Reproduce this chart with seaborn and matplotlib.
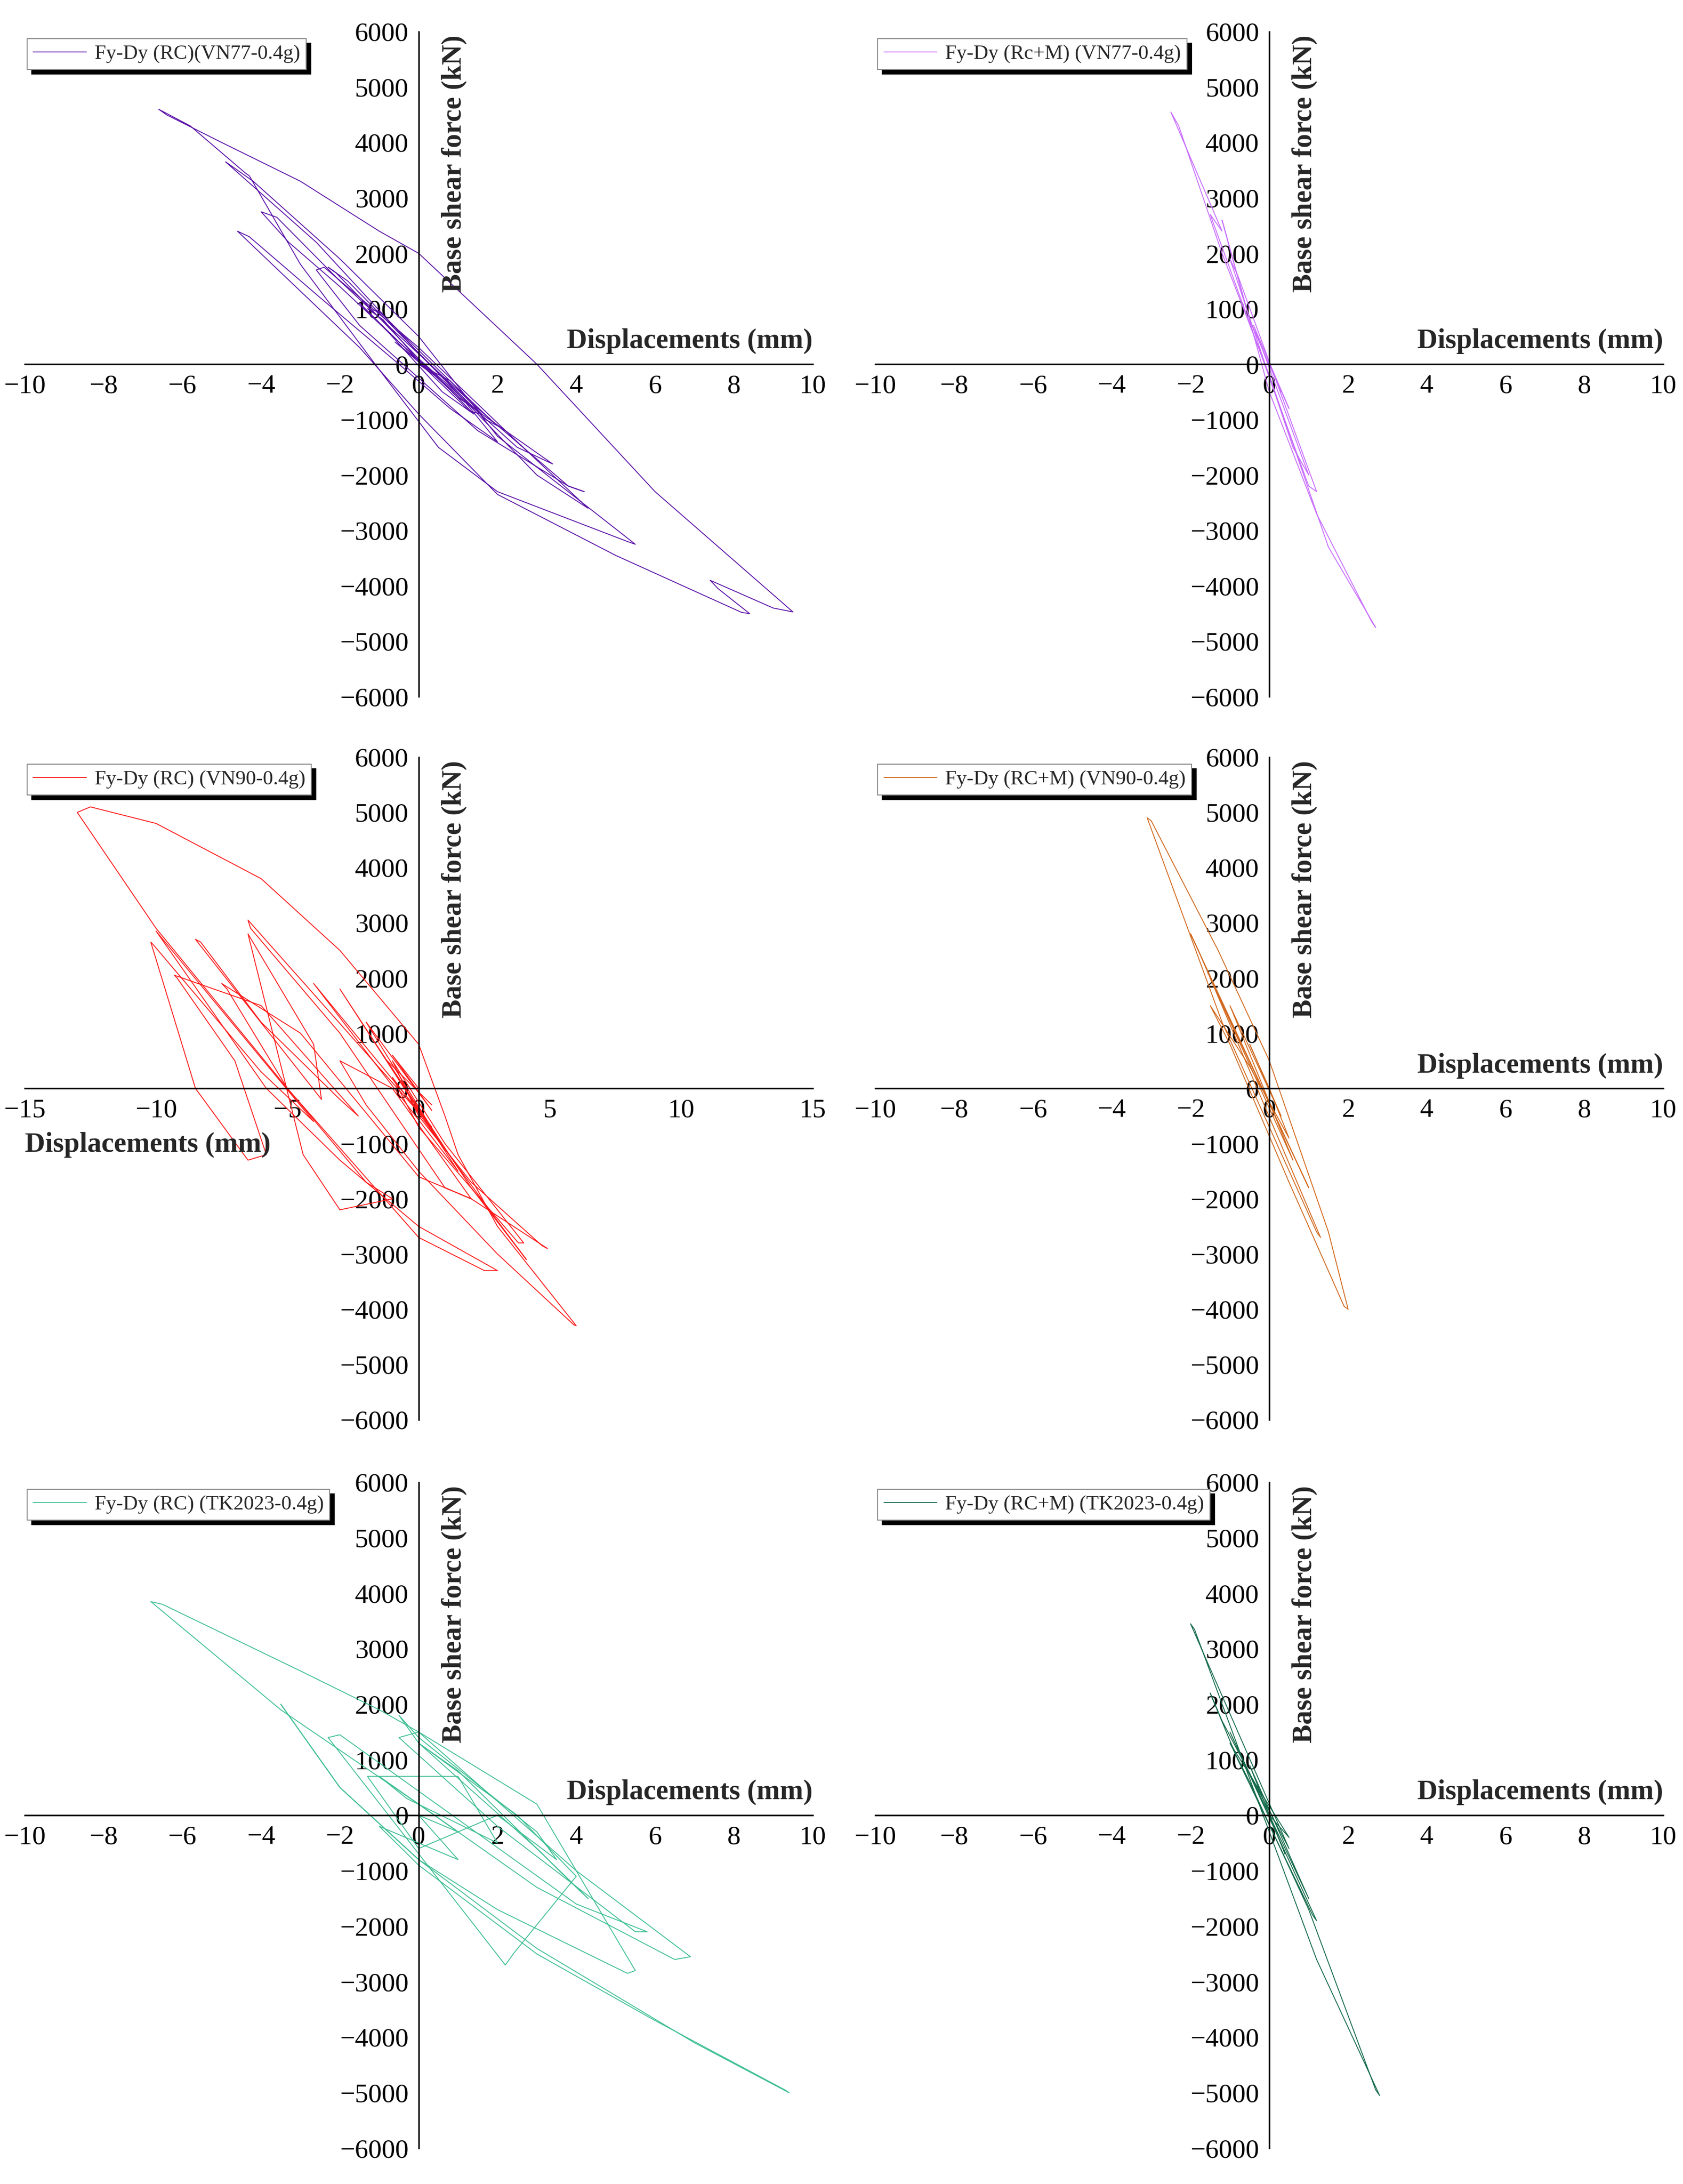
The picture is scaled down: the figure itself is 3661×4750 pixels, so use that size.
import numpy as np
import pandas as pd
import matplotlib
matplotlib.use("Agg")
import matplotlib.pyplot as plt
import seaborn as sns
from matplotlib.ticker import MultipleLocator

sns.set_style("white")
plt.rcParams['font.family'] = ['Liberation Serif', 'DejaVu Serif']

# ---------------- data ----------------
disp_rc_vn77 = [0,0.8,1.6,1.3,0.2,-0.9,-1.3,-1.0,0.5,1.9,2.1,1.7,0,-1.8,-2.3,-2.1,0,2.5,3.4,3.1,1,-2.0,-3.3,-4.0,-3.6,-2,1.5,3.8,4.2,3.8,1.5,-1.5,-2.6,-2.4,0,2.5,4.0,4.3,3,0,-2.6,-4.9,-4.8,-4.2,-2,0,2,5.5,5.3,2,0.5,-1.0,-3.0,-4.3,-4.4,-5.8,-6.6,-6.4,-5,-3,-1,0,3,6,9.5,9.0,7.4,7.6,8.4,8.2,5,2,0,-1.5,-4.6,-4.3,-2.5,-0.5,0.8,2.0,1.2,-0.5,-1.5,-0.8,0.6,1.4,0.3,-0.6,0.4,0]
force_rc_vn77 = [0,-300,-900,-850,-100,800,1000,950,-100,-1050,-1150,-1000,200,1500,1750,1650,100,-1500,-1800,-1650,-600,1400,2200,2750,2650,1500,-800,-2200,-2300,-2200,-1200,700,1700,1750,300,-1400,-2400,-2600,-2000,200,2200,3650,3600,3300,1900,500,-1300,-3250,-3200,-2300,-1500,-100,1800,3400,3450,4300,4600,4500,4000,3300,2400,2000,0,-2300,-4470,-4400,-3900,-4050,-4500,-4480,-3450,-2350,-900,300,2400,2300,1200,0,-800,-1400,-700,400,1100,600,-500,-900,-100,400,-200,0]

disp_rcm_vn77 = [0,0.5,-0.4,1.0,0.6,-1.0,-0.8,1.2,1.0,-1.5,-1.2,-2.5,-2.3,-1.2,0,1.5,2.7,2.6,1.2,0,-1.2,-0.5,0.3,0]
force_rcm_vn77 = [0,-800,700,-2000,-1500,1900,1600,-2300,-2200,2700,2400,4550,4300,2000,-200,-3300,-4750,-4650,-2700,-500,2600,800,-500,0]

disp_rc_vn90 = [0,-1,0.5,-2,1,-3,1.5,-4,0.5,-6.5,-6.4,-3,1,2,0,-4.5,-7.5,-7.3,-5,-2,-1,-3,-4.4,-6.5,-4,-3.7,-8.5,-8.3,-6,-3,-2.3,-6,-9.3,-9.2,-7,-5.8,-6.5,-8.5,-10.2,-10.1,-6,-4,-10,-5.8,-3,0,3,2.5,0,-5,-10,-13,-12.5,-10,-6,-3,0,1,1.5,3,6,5.9,3,0,-2,-3,-1,2,4.9,4.7,2,0,-1,1,4,3.8,0,-1,3,4.1,2,-1.2,0.5]
force_rc_vn90 = [0,600,-400,1200,-1100,1800,-1500,1900,-700,3050,2900,1000,-1800,-2000,-1600,1000,1900,1800,0,-1700,-2000,-2200,-1200,2800,800,-200,2700,2650,1200,-200,-500,1500,2050,2000,500,-1200,-1300,0,2650,2600,300,-600,2850,0,-1300,-2500,-3300,-3300,-2700,0,2900,5000,5100,4800,3800,2500,800,-500,-1200,-2500,-4300,-4280,-3000,-1500,-300,500,0,-2000,-2900,-2850,-1700,-500,500,-1000,-2800,-2800,-700,200,-2400,-3100,-1800,500,-300]

disp_rcm_vn90 = [0,-0.5,0.3,-1,0.6,-1.5,1,-2,-1.8,1.3,1.2,-1.2,-3.1,-3.0,-1.3,0,1.5,2,1.9,0.5,-1,-1.5,-0.5,0.5,0]
force_rcm_vn90 = [0,800,-500,1500,-1300,2000,-1800,2800,2500,-2700,-2600,1200,4900,4850,2500,500,-2600,-4000,-3950,-1700,800,1500,400,-900,0]

disp_rc_tk = [0,1,-1,-0.3,2,1,-1.3,-1,0,2,3.5,3,0,-0.5,0,3,4.3,4,1,0,2.5,4,2.4,2.2,-2.3,-2,4,5.8,5.5,2,-0.5,0,4,6.9,6.5,3,0,-3.5,-6.8,-6.5,-3,-1,0,3,5.5,5.3,2,0,-2,-3.5,-2,0,3,7,9.4,9.3,6,3,0,-1,1,0]
force_rc_tk = [0,-300,700,300,-500,700,700,400,-600,0,-800,-300,1400,1800,1300,-600,-1500,-1300,800,1300,0,-1100,-2500,-2700,1400,1450,-1600,-2100,-2100,-200,1400,1500,-1000,-2550,-2600,-1300,200,1900,3850,3800,2600,1900,1500,200,-2800,-2850,-1700,-800,500,2000,500,-800,-2400,-4100,-5000,-4950,-3700,-2500,-900,-200,-800,0]

disp_rcm_tk = [0,0.4,-0.5,1,-1,1.2,1.1,-0.8,-1.5,-1.2,0.5,-2,-1.9,0,1.2,2.8,2.7,1,-0.5,-1,0.5,0]
force_rcm_tk = [0,-700,900,-1500,1500,-1900,-1800,1000,2200,1700,-600,3450,3350,-300,-2600,-5050,-4950,-1700,600,1300,-400,0]

labels = ["Fy-Dy (RC)(VN77-0.4g)", "Fy-Dy (Rc+M) (VN77-0.4g)",
          "Fy-Dy (RC) (VN90-0.4g)", "Fy-Dy (RC+M) (VN90-0.4g)",
          "Fy-Dy (RC) (TK2023-0.4g)", "Fy-Dy (RC+M) (TK2023-0.4g)"]
series = [(disp_rc_vn77, force_rc_vn77), (disp_rcm_vn77, force_rcm_vn77),
          (disp_rc_vn90, force_rc_vn90), (disp_rcm_vn90, force_rcm_vn90),
          (disp_rc_tk, force_rc_tk), (disp_rcm_tk, force_rcm_tk)]
colors = ["#5b12a8", "#c86cff", "#ff1a1a", "#d2691e", "#3fbf94", "#156b4c"]
xlims = [10, 10, 15, 10, 10, 10]

fig = plt.figure(figsize=(36.62, 47.5), dpi=100)
lefts = [0.0147, 0.520]
width = 0.468
rows = [(0.681, 0.9855), (0.350, 0.6533), (0.0164, 0.3213)]

for i, ((dx, fy), lab, col, xl) in enumerate(zip(series, labels, colors, xlims)):
    r, c = divmod(i, 2)
    b, t = rows[r]
    ax = fig.add_axes([lefts[c], b, width, t - b])
    df = pd.DataFrame({"d": dx, "f": fy})
    sns.lineplot(data=df, x="d", y="f", sort=False, estimator=None, color=col,
                 lw=1.4, ax=ax, label=lab)
    ax.set_xlim(-xl, xl)
    ax.set_ylim(-6000, 6000)
    for s in ["top", "right"]:
        ax.spines[s].set_visible(False)
    ax.spines["left"].set_position(("data", 0))
    ax.spines["bottom"].set_position(("data", 0))
    for s in ["left", "bottom"]:
        ax.spines[s].set_linewidth(2.5)
        ax.spines[s].set_color("black")
    ax.xaxis.set_major_locator(MultipleLocator(5 if xl == 15 else 2))
    ax.xaxis.set_minor_locator(MultipleLocator(2.5 if xl == 15 else 1))
    ax.yaxis.set_major_locator(MultipleLocator(1000))
    ax.yaxis.set_minor_locator(MultipleLocator(500))
    ax.tick_params(axis="both", which="major", labelsize=42, length=12, width=2.5,
                   direction="out", colors="black", pad=4)
    ax.tick_params(axis="both", which="minor", length=7, width=2, direction="out")
    ax.set_xlabel("")
    ax.set_ylabel("")
    ax.text(0.545, 0.995, "Base shear force (kN)", transform=ax.transAxes, rotation=90,
            ha="center", va="top", fontsize=44, fontweight="bold")
    if i == 2:
        ax.text(0.0, 0.415, "Displacements (mm)", transform=ax.transAxes,
                ha="left", va="center", fontsize=44, fontweight="bold")
    else:
        ax.text(1.0, 0.515, "Displacements (mm)", transform=ax.transAxes,
                ha="right", va="bottom", fontsize=44, fontweight="bold")
    leg = ax.legend(loc="upper left", bbox_to_anchor=(-0.01, 1.005),
                    fontsize=32, frameon=True, fancybox=False, framealpha=1,
                    edgecolor="#888888", handlelength=2.6, handletextpad=0.4,
                    borderpad=0.3,
                    shadow={"color": "black", "alpha": 1, "ox": 7, "oy": -7})
    leg.get_frame().set_linewidth(1.5)

fig.savefig("out.png", dpi=100)
